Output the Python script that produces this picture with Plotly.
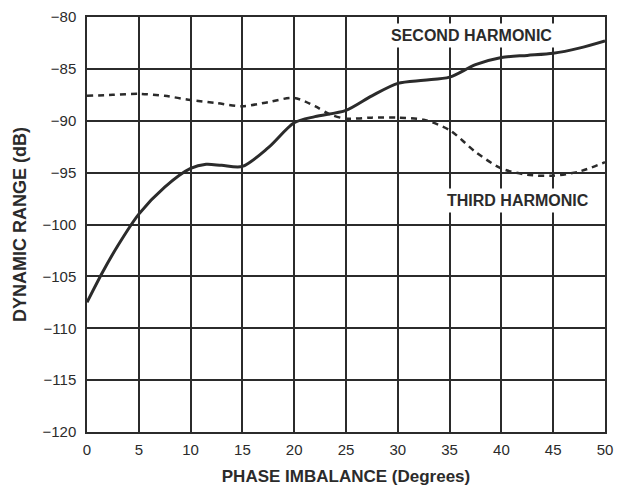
import plotly.graph_objects as go

phase_second = [0, 1.5, 3, 5, 7.5, 10, 11.5, 13, 15, 17.5, 20, 22, 25, 27.5, 30, 32.5, 35, 37.5, 40, 42.5, 45, 47.5, 50]
second_harm = [-107.5, -104.6, -102.0, -99.0, -96.4, -94.6, -94.2, -94.3, -94.4, -92.6, -90.2, -89.6, -89.0, -87.6, -86.4, -86.1, -85.8, -84.6, -83.9, -83.7, -83.5, -83.0, -82.3]

phase_third = [0, 2.5, 5, 7.5, 10, 12.5, 15, 17.5, 20, 22, 23.5, 25, 27.5, 30, 32.5, 35, 37.5, 40, 42.5, 45, 47.5, 50]
third_harm = [-87.6, -87.5, -87.4, -87.6, -88.0, -88.3, -88.6, -88.2, -87.8, -88.6, -89.4, -89.8, -89.7, -89.7, -89.9, -90.9, -93.0, -94.6, -95.2, -95.3, -94.9, -94.0]

x_ticks = [0, 5, 10, 15, 20, 25, 30, 35, 40, 45, 50]
y_ticks = [-80, -85, -90, -95, -100, -105, -110, -115, -120]

ink = "#2b2b2b"
font_family = "Liberation Sans, Arial, sans-serif"

fig = go.Figure()
fig.add_trace(go.Scatter(x=phase_second, y=second_harm, mode="lines",
                         line=dict(color=ink, width=3, shape="spline", smoothing=0.8),
                         name="Second Harmonic", showlegend=False))
fig.add_trace(go.Scatter(x=phase_third, y=third_harm, mode="lines",
                         line=dict(color=ink, width=2.5, dash="6px,5px", shape="spline", smoothing=0.8),
                         name="Third Harmonic", showlegend=False))

fig.add_annotation(x=37.1, y=-81.8, text="<b>SECOND HARMONIC</b>", showarrow=False,
                   xanchor="center", yanchor="middle", xref="x", yref="y",
                   bgcolor="white", font=dict(size=16, color=ink, family=font_family), borderpad=3)
fig.add_annotation(x=41.6, y=-97.7, text="<b>THIRD HARMONIC</b>", showarrow=False,
                   xanchor="center", yanchor="middle", xref="x", yref="y",
                   bgcolor="white", font=dict(size=16, color=ink, family=font_family), borderpad=3)

fig.update_layout(
    width=620, height=486,
    margin=dict(l=87, r=15, t=17, b=54, autoexpand=False),
    paper_bgcolor="white", plot_bgcolor="white",
    font=dict(family=font_family, color=ink, size=15),
)
fig.update_xaxes(range=[0, 50], tickvals=x_ticks, ticktext=[str(v) for v in x_ticks],
                 showgrid=True, gridcolor=ink, gridwidth=1.5,
                 showline=True, linecolor=ink, linewidth=1.5, mirror=True,
                 zeroline=False, ticks="", ticklabelstandoff=3, automargin=False,
                 tickfont=dict(size=15, color=ink, family=font_family),
                 title=dict(text="<b>PHASE IMBALANCE (Degrees)</b>", standoff=15,
                            font=dict(size=17, color=ink, family=font_family)))
fig.update_yaxes(range=[-120, -80], tickvals=y_ticks, ticktext=["\u2212" + str(abs(v)) for v in y_ticks],
                 showgrid=True, gridcolor=ink, gridwidth=1.5,
                 showline=True, linecolor=ink, linewidth=1.5, mirror=True,
                 zeroline=False, ticks="", ticklabelstandoff=6, automargin=False,
                 tickfont=dict(size=15, color=ink, family=font_family),
                 title=dict(text="<b>DYNAMIC RANGE (dB)</b>", standoff=11,
                            font=dict(size=18, color=ink, family=font_family)))

fig.write_html("out.html", config={"displayModeBar": False},
               post_script="document.body.style.margin='0px';")
